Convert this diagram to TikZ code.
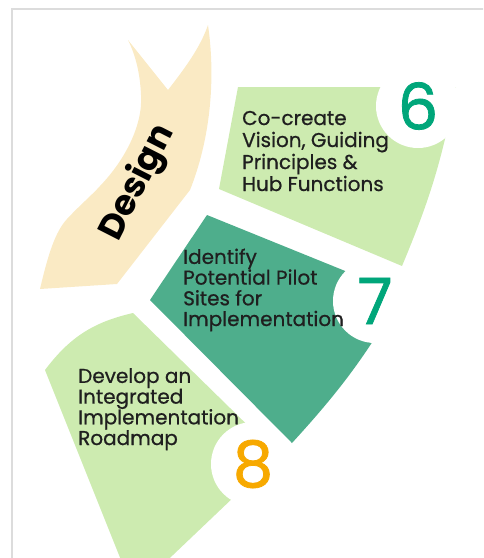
\documentclass[tikz,border=0pt]{standalone}
\usepackage{fontspec}
\setmainfont{Poppins}
\newfontfamily\stepfont{Poppins}[FakeBold=0.7]
\newfontfamily\numfont{Poppins}[FakeBold=1.2]
\usepackage{tikz}
\usepackage{xcolor}

\definecolor{bandbeige}{HTML}{FAEAC4}
\definecolor{steplight}{HTML}{CDEBB0}
\definecolor{stepdark}{HTML}{4EAE8C}
\definecolor{numgreen}{HTML}{00A67A}
\definecolor{numorange}{HTML}{F7A900}
\definecolor{framegrey}{HTML}{DCDCDC}

\begin{document}
\begin{tikzpicture}[x=1pt,y=-1pt]

        \tikzset{
            step_light/.style={fill=steplight},
            step_dark/.style={fill=stepdark},
            badge/.style={circle, fill=white, minimum size=84pt, inner sep=0pt, font=\numfont\fontsize{64}{64}\selectfont},
            step_text/.style={anchor=base west, align=left, inner sep=0pt, text=black!88, font=\stepfont\fontsize{20}{20.7}\selectfont},
            band_text/.style={font=\bfseries\fontsize{35}{35}\selectfont, inner sep=0pt}
        }

        \useasboundingbox (0,0) rectangle (483,558);
        \clip (0,0) rectangle (483,558);

        \draw[framegrey, line width=2pt] (12,560) -- (12,9) -- (485,9);

        \fill[bandbeige] (128,40) -- (168,90) .. controls (185,68) and (200,48) .. (208,25)
            .. controls (216,80) and (210,140) .. (190,190) -- (117,284) -- (40,289)
            .. controls (48,255) and (55,232) .. (67,219)
            .. controls (80,205) and (92,195) .. (100,186)
            .. controls (125,160) and (143,125) .. (141,95)
            .. controls (140,70) and (134,52) .. (128,40) -- cycle;

        \fill[step_light] (238,87) -- (456,87) to[bend left=6] (402,266) -- (219,189) -- cycle;
        \fill[step_dark] (207,215) -- (402,294) to[bend left=6] (292,443) -- (150,300) -- cycle;
        \fill[step_light] (133,313) -- (278,455) -- (152,575) -- (127,575) -- (45,370) to[bend left=20] cycle;

        \foreach \n/\x/\y/\c in {6/418/106/numgreen, 7/375/301/numgreen, 8/253/464/numorange} {
            \node[badge, text=\c] (badge\n) at (\x,\y) {\n};
        }

        \node[band_text, rotate=63] (design) at (138,183) {Design};

        \node[step_text, font=\stepfont\fontsize{20}{22}\selectfont] (step6) at (242,191) {Co-create\\Vision, Guiding\\Principles \&\\Hub Functions};
        \node[step_text] (step7) at (183,326) {Identify\\Potential Pilot\\Sites for\\Implementation};
        \node[step_text] (step8) at (78,445) {Develop an\\Integrated\\Implementation\\Roadmap};

\end{tikzpicture}
\end{document}
